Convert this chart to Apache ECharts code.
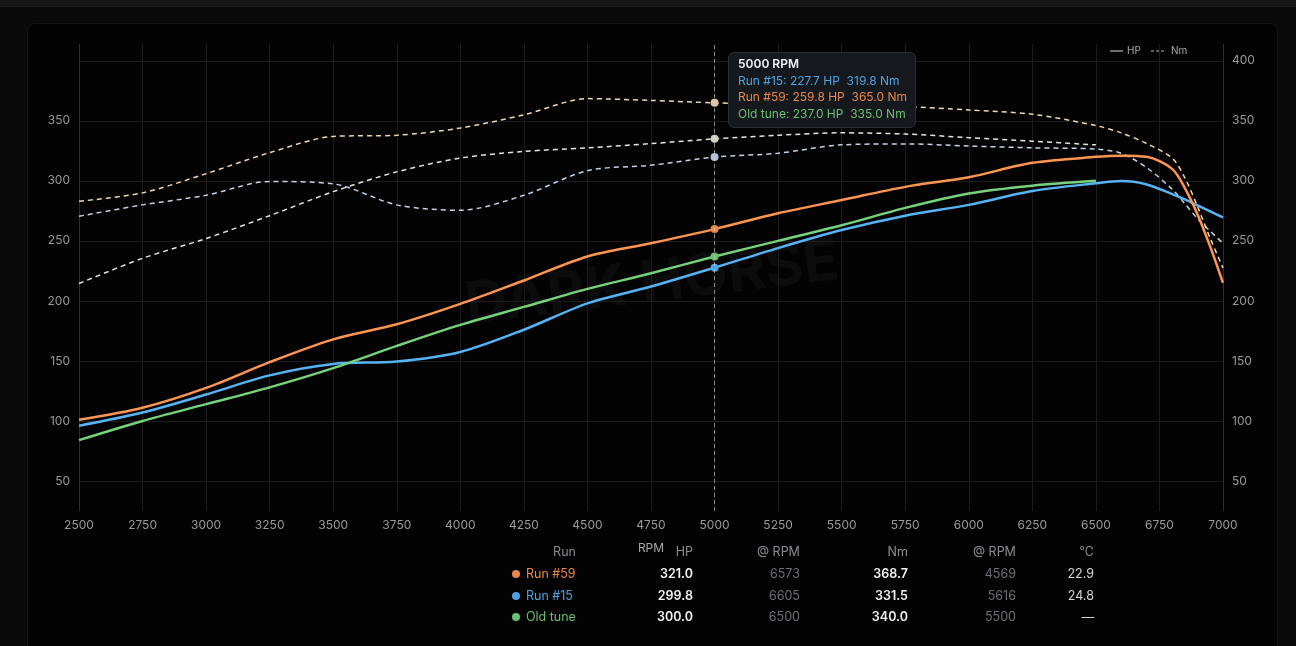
<!DOCTYPE html>
<html>
<head>
<meta charset="utf-8">
<title>Dyno runs</title>
<script src="https://cdn.jsdelivr.net/npm/echarts@6/dist/echarts.min.js"></script>
<style>
html, body { margin: 0; padding: 0; width: 1296px; height: 646px; background: #0a0a0a; overflow: hidden; font-family: Inter, 'Noto Sans', sans-serif; }
#topbar { position: absolute; left: 0; top: 0; width: 1296px; height: 6px; background: #151515; border-bottom: 1px solid #1e1e1e; }
#panel { position: absolute; left: 27px; top: 23px; width: 1249px; height: 640px; background: #030303; border: 1px solid #141414; border-radius: 8px; }
#chart { position: absolute; left: 0; top: 0; width: 1296px; height: 646px; }
#peaks { position: absolute; left: 512px; top: 541px; border-collapse: collapse; table-layout: fixed; font-size: 12.5px; color: #d8d8d8; }
#peaks td, #peaks th { padding: 0; height: 21.7px; white-space: nowrap; text-align: right; overflow: visible; }
#peaks th { font-weight: 400; color: #8a8d92; }
#peaks td.name { text-align: left; }
#peaks .dot { display: inline-block; width: 8px; height: 8px; border-radius: 50%; margin-right: 6px; vertical-align: 0px; }
#peaks td.big { font-weight: 600; color: #f2f2f2; }
#peaks td.dim { color: #6c6f74; }
</style>
</head>
<body>
<div id="topbar"></div>
<div id="panel"></div>
<div id="chart"></div>
<table id="peaks"></table>
<script>
// engine speed samples (rpm)
var rpm = [2500, 2750, 3000, 3250, 3500, 3750, 4000, 4250, 4500, 4750, 5000, 5250, 5500, 5750, 6000, 6250, 6500, 6600, 6700, 6800, 6850, 6900, 6950, 7000];

// Run #15
var hp15 = [96, 107, 122, 138, 147.5, 149.5, 157.5, 176, 198, 212, 227.7, 244, 259, 271, 280, 291.5, 298, 299.8, 297, 289, 284.5, 279.5, 274.5, 269.5];
var nm15 = [270.5, 280, 288, 299.5, 297.5, 280, 275.5, 288, 308.5, 313, 319.8, 323, 330, 330.8, 329, 327.5, 326.5, 323, 311, 293, 281, 268.5, 258, 248];

// Run #59
var hp59 = [101, 111, 127.5, 149, 168, 180.5, 197.5, 217, 237, 248, 259.8, 273, 284, 295, 303, 315, 320, 321, 320, 310, 294, 272, 245, 215];
var nm59 = [283, 290, 306, 323.5, 337, 338, 344, 355, 368.5, 367, 365, 364, 363, 362, 359, 355.5, 346, 340, 331, 319, 302.5, 278.5, 252, 227.5];

// Old tune (stops at 6500 rpm)
var hpOld = [84, 100, 114, 128, 144, 162.5, 180, 195, 210, 223, 237, 250, 263, 277.5, 289.5, 296, 300];
var nmOld = [214.5, 235.5, 252, 271, 291, 307.5, 319, 324.5, 327.5, 331, 335, 338, 340, 339, 336, 333, 330];

// peak table
var tableRuns = ['Run #59', 'Run #15', 'Old tune'];
var peakHp = [321.0, 299.8, 300.0];
var peakHpRpm = [6573, 6605, 6500];
var peakNm = [368.7, 331.5, 340.0];
var peakNmRpm = [4569, 5616, 5500];
var tempC = ['22.9', '24.8', '\u2014'];

var tableHeads = ['Run', 'HP', '@ RPM', 'Nm', '@ RPM', '\u00b0C'];
var colWidths = [61, 117, 107, 108, 108, 78];

var hoverRpm = 5000;

var runs = [
	{ name: 'Run #15', color: '#4fa3e0', nmColor: '#b0c2d6', hp: hp15, nm: nm15 },
	{ name: 'Run #59', color: '#e8884a', nmColor: '#dcc5a0', hp: hp59, nm: nm59 },
	{ name: 'Old tune', color: '#6cbf70', nmColor: '#cdd4c6', hp: hpOld, nm: nmOld }
];

function pairs( values )
{
	return values.map(function( v, i ){ return [ rpm[i], v ]; });
}

var series = [];
runs.forEach(function( run ){
	series.push({
		name: run.name + ' HP',
		type: 'line',
		yAxisIndex: 0,
		data: pairs( run.hp ),
		smooth: 0.3,
		showSymbol: false,
		symbol: 'circle',
		symbolSize: 8,
		lineStyle: { width: 2.5, color: run.color },
		itemStyle: { color: run.color },
		emphasis: { scale: false },
		z: 3
	});
	series.push({
		name: run.name + ' Nm',
		type: 'line',
		yAxisIndex: 1,
		data: pairs( run.nm ),
		smooth: 0.3,
		showSymbol: false,
		symbol: 'circle',
		symbolSize: 8,
		lineStyle: { width: 1.5, color: run.nmColor, type: [5, 4] },
		itemStyle: { color: run.nmColor },
		emphasis: { scale: false },
		z: 2
	});
});

var axisText = { color: '#9a9a9a', fontSize: 12, fontFamily: 'Inter' };

var option = {
	animation: false,
	backgroundColor: 'transparent',
	grid: { left: 79, right: 73, top: 44, bottom: 135 },
	xAxis: {
		type: 'value',
		min: 2500,
		max: 7000,
		interval: 250,
		name: 'RPM',
		nameLocation: 'middle',
		nameGap: 31,
		nameTextStyle: { color: '#a8a8a8', fontSize: 12, fontFamily: 'Inter' },
		axisLine: { show: false },
		axisTick: { show: false },
		axisLabel: Object.assign({ margin: 8, formatter: function( v ){ return String( v ); } }, axisText),
		splitLine: { lineStyle: { color: '#1c1c1c', width: 1 } }
	},
	yAxis: [
		{
			type: 'value',
			position: 'left',
			min: 25,
			max: 414,
			interval: 25,
			axisLine: { show: true, lineStyle: { color: '#2e2e2e' } },
			axisTick: { show: false },
			axisLabel: Object.assign({
				margin: 9,
				formatter: function( v ){ return ( v % 50 === 0 && v <= 350 ) ? String( v ) : ''; }
			}, axisText),
			// every second line only: ticks run at 25 so the labels can sit on 50s
			splitLine: { lineStyle: { color: ['rgba(0,0,0,0)', '#1c1c1c'], width: 1 } }
		},
		{
			type: 'value',
			position: 'right',
			min: 25,
			max: 414,
			interval: 25,
			axisLine: { show: true, lineStyle: { color: '#2e2e2e' } },
			axisTick: { show: false },
			axisLabel: Object.assign({
				margin: 9,
				formatter: function( v ){ return ( v % 50 === 0 && v <= 400 ) ? String( v ) : ''; }
			}, axisText),
			splitLine: { show: false }
		}
	],
	tooltip: {
		trigger: 'axis',
		triggerOn: 'none',
		alwaysShowContent: true,
		transitionDuration: 0,
		backgroundColor: '#15181d',
		borderColor: '#2b2f35',
		borderWidth: 1,
		padding: [3, 8, 5, 9],
		extraCssText: 'border-radius:6px;box-shadow:none;line-height:16.5px;',
		textStyle: { color: '#eeeeee', fontSize: 12, fontFamily: 'Inter' },
		axisPointer: {
			type: 'line',
			snap: true,
			lineStyle: { color: 'rgba(220,220,220,0.55)', width: 1, type: [4, 3] }
		},
		position: function( point ){
			return [ point[0] + 13, 52 ];
		},
		formatter: function( params ){
			var x = params[0].value[0];
			var html = '<div style="font-weight:600;color:#f4f4f4">' + x + ' RPM</div>';
			runs.forEach(function( run, i ){
				var hp = null, nm = null;
				params.forEach(function( p ){
					if( p.seriesIndex === i * 2 ) hp = p.value[1];
					if( p.seriesIndex === i * 2 + 1 ) nm = p.value[1];
				});
				if( hp === null ) return;
				html += '<div style="color:' + run.color + '">' + run.name + ': ' + hp.toFixed(1) + ' HP&nbsp;&nbsp;' + nm.toFixed(1) + ' Nm</div>';
			});
			return html;
		}
	},
	graphic: [
		{
			type: 'text',
			x: 652,
			y: 284,
			rotation: 0.12,
			silent: true,
			z: -1,
			style: {
				text: 'DARK HORSE',
				fill: 'rgba(255,255,255,0.04)',
				font: 'bold 58px Inter',
				align: 'center',
				verticalAlign: 'middle'
			}
		},
		{ type: 'line', shape: { x1: 1110, y1: 51, x2: 1123, y2: 51 }, style: { stroke: '#b8b8b8', lineWidth: 1.2 } },
		{ type: 'text', x: 1127, y: 51, style: { text: 'HP', fill: '#a8a8a8', font: '10px Inter', verticalAlign: 'middle' } },
		{ type: 'line', shape: { x1: 1151, y1: 51, x2: 1166, y2: 51 }, style: { stroke: '#b8b8b8', lineWidth: 1.2, lineDash: [3, 2] } },
		{ type: 'text', x: 1171, y: 51, style: { text: 'Nm', fill: '#a8a8a8', font: '10px Inter', verticalAlign: 'middle' } }
	],
	series: series
};

var chart = echarts.init( document.getElementById('chart') );
chart.setOption( option );

var px = chart.convertToPixel({ xAxisIndex: 0 }, hoverRpm);
chart.dispatchAction({ type: 'showTip', x: px, y: 300 });

// peak table under the chart
var table = document.getElementById('peaks');
var html = '<colgroup>' + colWidths.map(function( w ){ return '<col style="width:' + w + 'px">'; }).join('') + '</colgroup>';
html += '<tr>' + tableHeads.map(function( h ){ return '<th>' + h + '</th>'; }).join('') + '</tr>';
tableRuns.forEach(function( name, i ){
	var run = runs.filter(function( r ){ return r.name === name; })[0];
	html += '<tr>' +
		'<td class="name" style="color:' + run.color + '"><span class="dot" style="background:' + run.color + '"></span>' + name + '</td>' +
		'<td class="big">' + peakHp[i].toFixed(1) + '</td>' +
		'<td class="dim">' + peakHpRpm[i] + '</td>' +
		'<td class="big">' + peakNm[i].toFixed(1) + '</td>' +
		'<td class="dim">' + peakNmRpm[i] + '</td>' +
		'<td>' + tempC[i] + '</td>' +
		'</tr>';
});
table.innerHTML = html;
</script>
</body>
</html>
